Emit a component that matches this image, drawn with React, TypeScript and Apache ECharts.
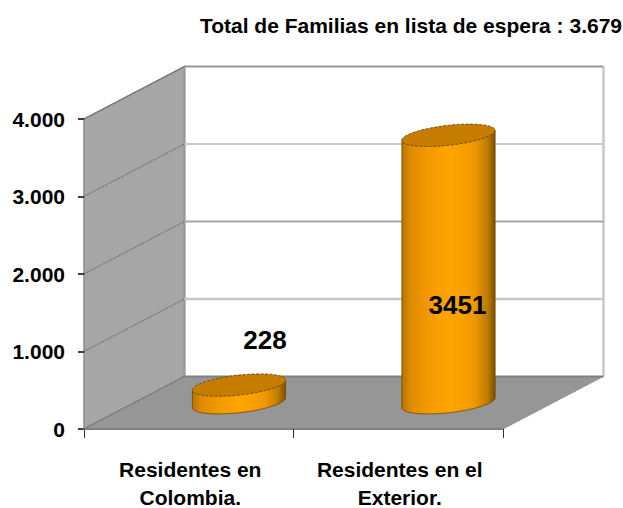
import React, { useEffect, useRef } from "react";
import * as echarts from "echarts";

const titleText = "Total de Familias en lista de espera : 3.679";
const categories = ["Residentes en\nColombia.", "Residentes en el\nExterior."];
const values = [228, 3451];
const yTicks = [0, 1000, 2000, 3000, 4000];

const FONT = '"Liberation Sans", Arial, sans-serif';
const DEPTH_X = 100.5;
const DEPTH_Y = -52.5;
const LABEL_SHIFT = [{ x: 26, y: -45 }, { x: 9, y: 0 }];
const BACK_LINE = [
  { color: "#808080", width: 2 },
  { color: "#c8c8c8", width: 2.5 },
  { color: "#a6a6a6", width: 2 },
  { color: "#c8c8c8", width: 2 },
  { color: "#999999", width: 2 },
];

const bodyFill = {
  type: "linear", x: 0, y: 0, x2: 1, y2: 0,
  colorStops: [
    { offset: 0, color: "#b87400" },
    { offset: 0.1, color: "#e08c00" },
    { offset: 0.3, color: "#f59a00" },
    { offset: 0.52, color: "#ffa500" },
    { offset: 0.78, color: "#f09800" },
    { offset: 0.92, color: "#bd7a00" },
    { offset: 1, color: "#7e5000" },
  ],
};

function wallItem(params: any, api: any) {
  const cs = params.coordSys;
  const left = cs.x;
  const right = cs.x + cs.width;
  const top = api.coord([0, 4000])[1];
  const bottom = api.coord([0, 0])[1];
  const p = (x: number, y: number) => [x + DEPTH_X, y + DEPTH_Y];
  return {
    type: "group",
    children: [
      {
        type: "polygon",
        shape: { points: [[left, bottom], [left, top], p(left, top), p(left, bottom)] },
        style: { fill: "#a6a6a6", stroke: "#8c8c8c", lineWidth: 1.5 },
      },
      {
        type: "polygon",
        shape: { points: [[left, bottom], [right, bottom], p(right, bottom), p(left, bottom)] },
        style: { fill: "#969696", stroke: null },
      },
      {
        type: "line",
        shape: { x1: p(left, 0)[0], y1: p(0, bottom)[1], x2: p(left, 0)[0], y2: p(0, top)[1] },
        style: { stroke: "#999999", lineWidth: 2 },
      },
      {
        type: "line",
        shape: { x1: p(right, 0)[0], y1: p(0, bottom)[1], x2: p(right, 0)[0], y2: p(0, top)[1] },
        style: { stroke: "#c8c8c8", lineWidth: 2.5 },
      },
      {
        type: "line",
        shape: { x1: right, y1: bottom, x2: p(right, 0)[0], y2: p(0, bottom)[1] },
        style: { stroke: "#8c8c8c", lineWidth: 1, lineDash: [2, 1] },
      },
    ],
  };
}

function gridItem(params: any, api: any) {
  const cs = params.coordSys;
  const left = cs.x;
  const right = cs.x + cs.width;
  const y = api.coord([0, api.value(1)])[1];
  const style = BACK_LINE[params.dataIndex];
  return {
    type: "group",
    children: [
      {
        type: "line",
        shape: { x1: left, y1: y, x2: left + DEPTH_X, y2: y + DEPTH_Y },
        style: { stroke: "#666666", lineWidth: 1, lineDash: [2, 1] },
      },
      {
        type: "line",
        shape: { x1: left + DEPTH_X, y1: y + DEPTH_Y, x2: right + DEPTH_X, y2: y + DEPTH_Y },
        style: { stroke: style.color, lineWidth: style.width },
      },
    ],
  };
}

function cylinderItem(params: any, api: any) {
  const value = api.value(1);
  const base = api.coord([api.value(0), 0]);
  const topPt = api.coord([api.value(0), value]);
  const a = api.size([1, 0])[0] * 0.2225;
  const cx = base[0] + DEPTH_X / 2;
  const by = base[1] + DEPTH_Y / 2;
  const ty = topPt[1] + DEPTH_Y / 2;
  const tiltY = a * 0.107;
  const b = a * 0.215;
  const pt = (cy: number, t: number) => [
    cx + a * Math.cos(t),
    cy - tiltY * Math.cos(t) + b * Math.sin(t),
  ];
  const N = 60;
  const lidPts: number[][] = [];
  for (let i = 0; i < N * 2; i++) lidPts.push(pt(ty, (i / (N * 2)) * Math.PI * 2));
  const bodyPts: number[][] = [pt(ty, Math.PI)];
  for (let i = N; i >= 0; i--) bodyPts.push(pt(by, (i / N) * Math.PI));
  bodyPts.push(pt(ty, 0));
  const shift = LABEL_SHIFT[params.dataIndex];
  const labelY = value > 1000 ? (by + ty) / 2 + shift.y + 36 : ty + shift.y;
  return {
    type: "group",
    children: [
      {
        type: "polygon",
        shape: { points: bodyPts },
        style: { fill: bodyFill, stroke: "#6e4600", lineWidth: 0.8 },
      },
      {
        type: "polygon",
        shape: { points: lidPts },
        style: { fill: "#c67c00", stroke: "#5e3c00", lineWidth: 0.8, lineDash: [3, 1.5] },
      },
      {
        type: "text",
        style: {
          x: cx + shift.x,
          y: labelY,
          text: String(value),
          fill: "#000000",
          font: `bold 26px ${FONT}`,
          textAlign: "center",
          textVerticalAlign: "middle",
        },
      },
    ],
  };
}

export default function App() {
  const ref = useRef<HTMLDivElement>(null);
  useEffect(() => {
    const chart = echarts.init(ref.current!, undefined, { renderer: "svg" });
    chart.setOption({
      animation: false,
      backgroundColor: "#ffffff",
      title: {
        text: titleText,
        right: 1,
        top: 15,
        padding: 0,
        textStyle: { fontFamily: FONT, fontWeight: "bold", fontSize: 21, color: "#000000" },
      },
      grid: { left: 84, right: 120, top: 119, bottom: 79, outerBoundsMode: "none" },
      xAxis: {
        type: "category",
        data: categories,
        axisLine: { show: true, lineStyle: { color: "#808080", width: 2 } },
        axisTick: { show: true, alignWithLabel: false, length: 9, lineStyle: { color: "#333333", width: 1 } },
        axisLabel: {
          color: "#000000",
          fontFamily: FONT,
          fontWeight: "bold",
          fontSize: 21,
          lineHeight: 28,
          margin: 26,
          interval: 0,
          padding: [0, 0, 0, 3],
        },
        z: 1,
      },
      yAxis: {
        type: "value",
        min: 0,
        max: 4000,
        interval: 1000,
        splitLine: { show: false },
        axisLine: { show: false },
        axisTick: { show: true, length: 6, lineStyle: { color: "#000000", width: 1.5 } },
        axisLabel: {
          color: "#000000",
          fontFamily: FONT,
          fontWeight: "bold",
          fontSize: 21,
          margin: 19,
          formatter: (v: number) => (v === 0 ? "0" : `${v / 1000}.000`),
        },
      },
      series: [
        {
          type: "custom",
          coordinateSystem: "cartesian2d",
          renderItem: wallItem,
          data: [[0, 0]],
          silent: true,
          z: 0,
        },
        {
          type: "custom",
          coordinateSystem: "cartesian2d",
          renderItem: gridItem,
          data: yTicks.map((t) => [0, t]),
          silent: true,
          z: 1,
        },
        {
          type: "custom",
          coordinateSystem: "cartesian2d",
          renderItem: cylinderItem,
          data: values.map((v, i) => [i, v]),
          silent: true,
          z: 3,
        },
      ],
    });
    return () => chart.dispose();
  }, []);
  return (
    <div
      ref={ref}
      style={{ position: "absolute", left: 0, top: 0, width: 623, height: 508, background: "#fff" }}
    />
  );
}
